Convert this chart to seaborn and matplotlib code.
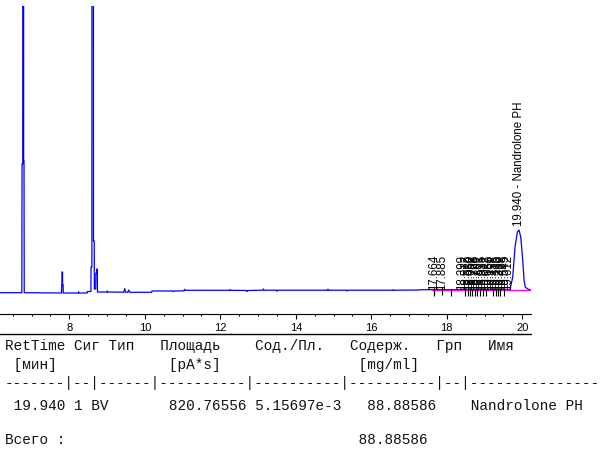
import matplotlib
matplotlib.use("Agg")
import matplotlib.pyplot as plt
import seaborn as sns
import pandas as pd
from matplotlib.ticker import MultipleLocator, FixedLocator

# ---------------- data ----------------
trace_time = [6.164, 6.742, 6.748, 6.766, 6.770, 6.786, 6.790, 6.800, 6.806,
              7.794, 7.798, 7.804, 7.807, 7.820, 7.823, 7.836, 7.840,
              8.240, 8.245, 8.250,
              8.474, 8.478, 8.572, 8.576, 8.598, 8.602, 8.636, 8.640, 8.660, 8.664,
              8.700, 8.704, 8.722, 8.726, 8.742, 8.746,
              9.000, 9.007, 9.014, 9.440, 9.468, 9.490, 9.550, 9.573, 9.600,
              10.180, 10.190, 10.740, 10.755, 10.770, 11.040, 11.050, 11.070,
              12.250, 12.260, 12.280, 12.700, 12.710, 12.730, 13.130, 13.140, 13.160,
              13.490, 13.500, 13.520, 14.840, 14.850, 14.870, 15.350, 15.360, 15.380,
              16.570, 16.580, 16.600, 17.280, 17.300, 17.660, 19.670,
              19.674, 19.746, 19.807, 19.868, 19.913, 19.958, 20.011, 20.045,
              20.080, 20.159, 20.222]
trace_signal = [0.3, 0.3, 129, 129, 2000, 2000, 132, 132, 0.3,
                0.0, 8, 8, 21, 21, 8, 8, 0.0,
                0.0, 1.2, 0.0,
                0.0, 1.5, 1.5, 26, 26, 2000, 2000, 52, 52, 4,
                4, 20, 20, 24, 24, 1.0,
                1.0, 2.0, 1.0, 0.8, 4.3, 0.8, 0.8, 3.0, 0.7,
                0.7, 2.0, 2.0, 1.3, 2.0, 2.2, 3.7, 2.7,
                2.7, 3.3, 2.7, 2.5, 1.5, 2.5, 2.8, 4.0, 2.8,
                2.8, 1.8, 2.8, 2.8, 3.7, 2.8, 2.8, 2.0, 2.8,
                2.8, 3.3, 2.8, 3.0, 3.3, 3.3, 3.3,
                3.5, 16, 46, 61, 63, 56, 33, 13,
                5.7, 3.7, 3.0]

baseline_time = [17.620, 20.222]
baseline_signal = [2.6, 2.6]

small_label_times = [17.664, 17.885, 18.399, 18.512, 18.580, 18.652, 18.728,
                     18.790, 18.861, 18.935, 19.012, 19.087, 19.160, 19.238,
                     19.315, 19.390, 19.468, 19.545, 19.612]
event_times = [17.664, 18.110, 18.480, 18.550, 18.610, 18.680, 18.745, 18.810,
               18.875, 18.960, 19.050, 19.225, 19.295, 19.355, 19.415, 19.520]

main_peak_time = 19.940
main_peak_height = 63
main_peak_name = "Nandrolone PH"

x_major = [8, 10, 12, 14, 16, 18, 20]

table_lines = [
    "RetTime Сиг Тип   Площадь    Сод./Пл.   Содерж.   Грп   Имя",
    " [мин]             [pA*s]                [mg/ml]",
    "-------|--|------|----------|----------|----------|--|---------------",
    " 19.940 1 BV       820.76556 5.15697e-3   88.88586    Nandrolone PH",
    "Всего :                                  88.88586",
]
table_y_px = [346, 364.5, 383, 405.5, 440]

# ---------------- figure ----------------
sns.set_style("white")
plt.rcParams["font.family"] = ["Liberation Sans", "DejaVu Sans"]

W, H = 601, 455
fig = plt.figure(figsize=(W / 100, H / 100), dpi=100)
ax_top_px, ax_bot_px, ax_right_px = 6, 314.3, 530.7
ax = fig.add_axes([0, 1 - ax_bot_px / H, ax_right_px / W, (ax_bot_px - ax_top_px) / H])

df = pd.DataFrame({"t": trace_time, "s": trace_signal})
sns.lineplot(data=df, x="t", y="s", ax=ax, color="#0000ff", lw=0.9,
             estimator=None, sort=False)
dfb = pd.DataFrame({"t": baseline_time, "s": baseline_signal})
sns.lineplot(data=dfb, x="t", y="s", ax=ax, color="#ff00ff", lw=1.0,
             estimator=None, sort=False)

ax.vlines(event_times, -3, 4, color="black", lw=0.8)
ax.vlines(small_label_times[:2], -2, 6, color="black", lw=0.8)

for t in small_label_times:
    ax.text(t, 3.5, f"{t:.3f}", rotation=90, rotation_mode="anchor",
            ha="left", va="center", fontsize=8.3, color="black", clip_on=False)
ax.text(main_peak_time - 0.03, main_peak_height + 4,
        f"{main_peak_time:.3f} - {main_peak_name}", rotation=90,
        rotation_mode="anchor", ha="left", va="center", fontsize=8.3,
        color="black", clip_on=False)

ax.set_xlim(6.164, 20.222)
ax.set_ylim(-21.3, 287)
ax.set_xlabel("")
ax.set_ylabel("")
ax.set_yticks([])
for sp in ["left", "right", "top"]:
    ax.spines[sp].set_visible(False)
ax.spines["bottom"].set_color("black")
ax.spines["bottom"].set_linewidth(0.8)
ax.xaxis.set_major_locator(FixedLocator(x_major))
ax.xaxis.set_minor_locator(MultipleLocator(0.5))
ax.set_xticklabels([str(v) for v in x_major])
ax.tick_params(axis="x", which="major", direction="out", length=3.6, width=0.8,
               color="black", labelsize=8, pad=2.7, labelcolor="black", bottom=True)
ax.tick_params(axis="x", which="minor", direction="out", length=1.5, width=0.8,
               color="black", bottom=True)
ax.patch.set_alpha(0)

# separator line under axis
fig.add_artist(plt.Line2D([0, ax_right_px / W], [1 - 334.3 / H] * 2,
                          color="black", lw=1.0))

for line, ypx in zip(table_lines, table_y_px):
    fig.text(4.6 / W, 1 - ypx / H, line, family="Liberation Mono",
             fontsize=10.33, va="center", ha="left", color="#111111")

fig.savefig("out.png", dpi=100)
